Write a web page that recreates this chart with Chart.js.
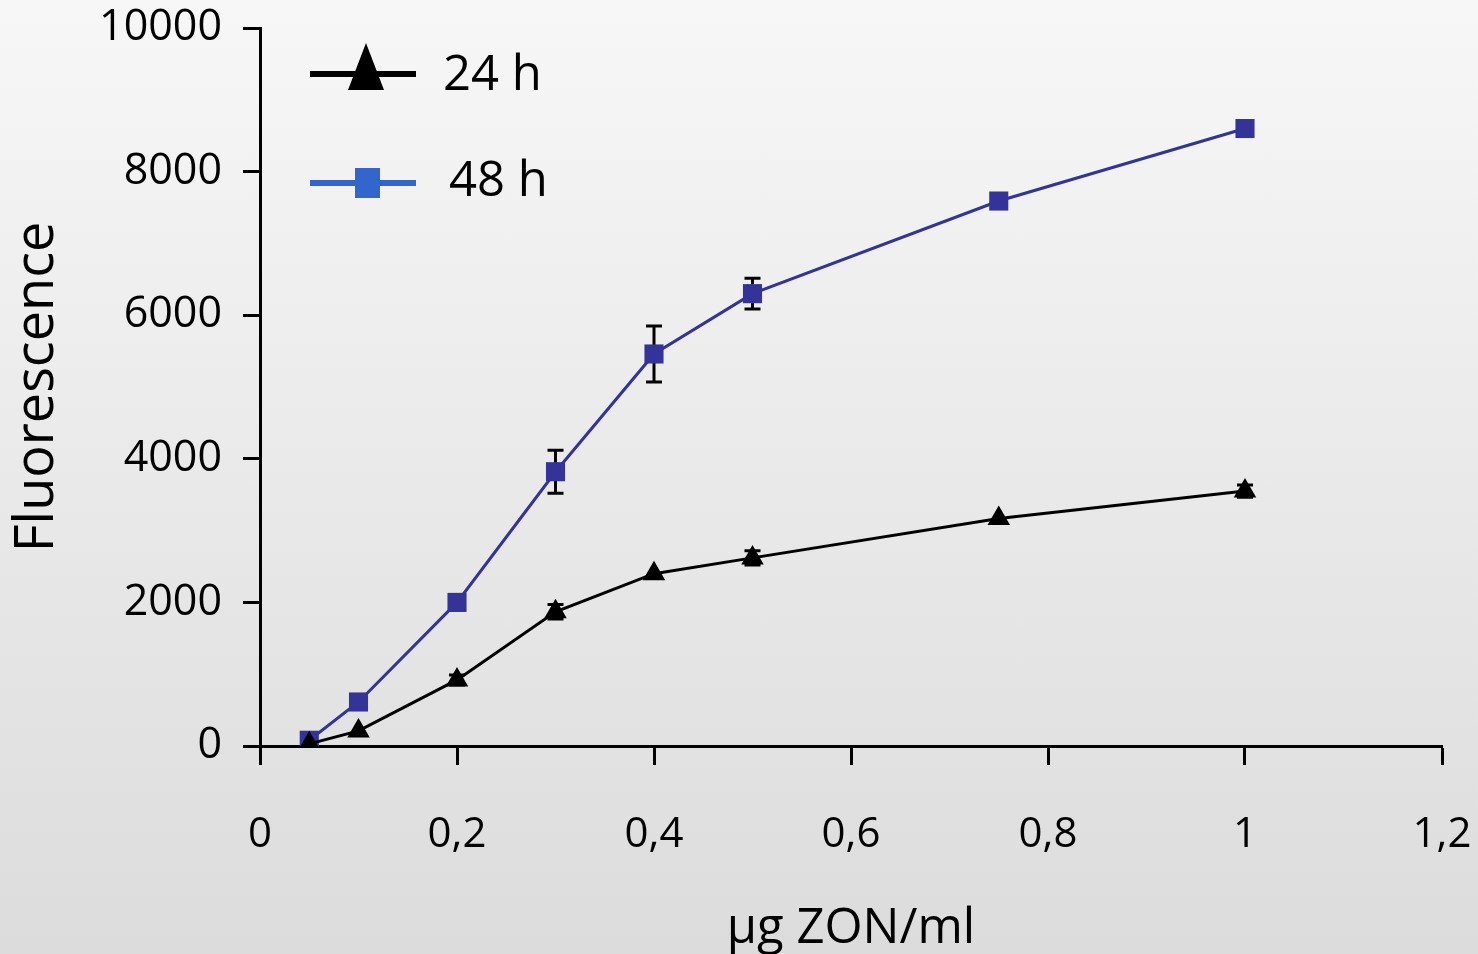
<!DOCTYPE html>
<html><head><meta charset="utf-8">
<script src="https://cdn.jsdelivr.net/npm/chart.js@4.4.1/dist/chart.umd.min.js"></script>
<style>
html,body{margin:0;padding:0;width:1478px;height:954px;overflow:hidden;background:linear-gradient(#f7f7f7,#dcdcdc);}
canvas{display:block;}
</style>
</head><body>
<canvas id="c" width="1478" height="954"></canvas>
<script>
const concentrations = [0.05, 0.1, 0.2, 0.3, 0.4, 0.5, 0.75, 1.0];
const fluor24h = [30, 210, 920, 1870, 2400, 2620, 3170, 3550];
const err24h   = [0, 0, 70, 100, 0, 100, 0, 85];
const fluor48h = [80, 613, 2000, 3820, 5460, 6300, 7590, 8600];
const err48h   = [0, 0, 105, 300, 390, 215, 80, 70];
const seriesLabels = ['24 h', '48 h'];
const xTickLabels = ['0', '0,2', '0,4', '0,6', '0,8', '1', '1,2'];
const yTickLabels = ['0', '2000', '4000', '6000', '8000', '10000'];
const xTitle = 'µg ZON/ml';
const yTitle = 'Fluorescence';

const toPoints = (ys) => concentrations.map((x, i) => ({x: x, y: ys[i]}));
const errors = [err24h, err48h];

const FONT = "'Open Sans', sans-serif";

const errorBarPlugin = {
  id: 'errorBars',
  beforeDatasetsDraw(chart) {
    const ctx = chart.ctx;
    const xs = chart.scales.x, ys = chart.scales.y;
    ctx.save();
    ctx.strokeStyle = '#000';
    ctx.lineWidth = 3;
    chart.data.datasets.forEach((ds, di) => {
      const errs = errors[di];
      ds.data.forEach((p, i) => {
        const e = errs[i];
        if (!e) return;
        const px = xs.getPixelForValue(p.x);
        const top = ys.getPixelForValue(p.y + e);
        const bot = ys.getPixelForValue(p.y - e);
        const cw = 8;
        ctx.beginPath();
        ctx.moveTo(px, top); ctx.lineTo(px, bot);
        ctx.moveTo(px - cw, top); ctx.lineTo(px + cw, top);
        ctx.moveTo(px - cw, bot); ctx.lineTo(px + cw, bot);
        ctx.stroke();
      });
    });
    ctx.restore();
  }
};

const legendPlugin = {
  id: 'customLegend',
  afterDraw(chart) {
    const ctx = chart.ctx;
    ctx.save();
    ctx.font = "49px " + FONT;
    ctx.fillStyle = '#000';
    ctx.textBaseline = 'middle';
    ctx.textAlign = 'left';
    ctx.strokeStyle = '#000';
    ctx.lineWidth = 6;
    ctx.beginPath(); ctx.moveTo(310, 74); ctx.lineTo(416, 74); ctx.stroke();
    ctx.beginPath(); ctx.moveTo(366, 43); ctx.lineTo(384, 90); ctx.lineTo(348, 90); ctx.closePath(); ctx.fill();
    ctx.fillText(seriesLabels[0], 443, 76);
    ctx.strokeStyle = '#3366cc';
    ctx.fillStyle = '#3366cc';
    ctx.beginPath(); ctx.moveTo(310, 183); ctx.lineTo(416, 183); ctx.stroke();
    ctx.fillRect(355, 168, 25, 30);
    ctx.fillStyle = '#000';
    ctx.fillText(seriesLabels[1], 449, 182);
    ctx.restore();
  }
};

new Chart(document.getElementById('c'), {
  type: 'line',
  data: {
    datasets: [
      {
        label: seriesLabels[0],
        data: toPoints(fluor24h),
        borderColor: '#000',
        backgroundColor: '#000',
        borderWidth: 3,
        pointStyle: 'triangle',
        pointRadius: 13,
        pointBorderWidth: 0,
        tension: 0
      },
      {
        label: seriesLabels[1],
        data: toPoints(fluor48h),
        borderColor: '#333399',
        backgroundColor: '#333399',
        borderWidth: 3,
        pointStyle: 'rect',
        pointRadius: 13.5,
        pointBorderWidth: 0,
        tension: 0
      }
    ]
  },
  options: {
    responsive: false,
    devicePixelRatio: 1,
    animation: false,
    layout: { padding: { left: 0, right: 36, top: 28, bottom: 0 } },
    plugins: { legend: { display: false }, tooltip: { enabled: false } },
    scales: {
      x: {
        type: 'linear',
        min: 0, max: 1.2,
        afterFit(scale) { scale.height = 208; scale.paddingLeft = 0; scale.paddingRight = 0; },
        border: { display: true, color: '#000', width: 3 },
        grid: { drawOnChartArea: false, drawTicks: true, tickLength: 19, tickWidth: 3, tickColor: '#000' },
        ticks: {
          stepSize: 0.2,
          padding: 45,
          color: '#000',
          font: { family: FONT, size: 42 },
          maxRotation: 0,
          callback: (v, i) => xTickLabels[i]
        },
        title: {
          display: true, text: xTitle, color: '#000',
          font: { family: FONT, size: 49, lineHeight: 1 },
          padding: { top: 0, bottom: 0 }
        }
      },
      y: {
        type: 'linear',
        min: 0, max: 10000,
        afterFit(scale) { scale.width = 260; scale.paddingTop = 0; scale.paddingBottom = 0; },
        border: { display: true, color: '#000', width: 3 },
        grid: { drawOnChartArea: false, drawTicks: true, tickLength: 17, tickWidth: 3, tickColor: '#000' },
        ticks: {
          stepSize: 2000,
          padding: 21,
          color: '#000',
          font: { family: FONT, size: 43 },
          callback: (v, i) => yTickLabels[i]
        },
        title: {
          display: true, text: yTitle, color: '#000',
          font: { family: FONT, size: 54, lineHeight: 1.2 },
          padding: { top: 5, bottom: 0 }
        }
      }
    }
  },
  plugins: [errorBarPlugin, legendPlugin]
});
</script>
</body></html>
